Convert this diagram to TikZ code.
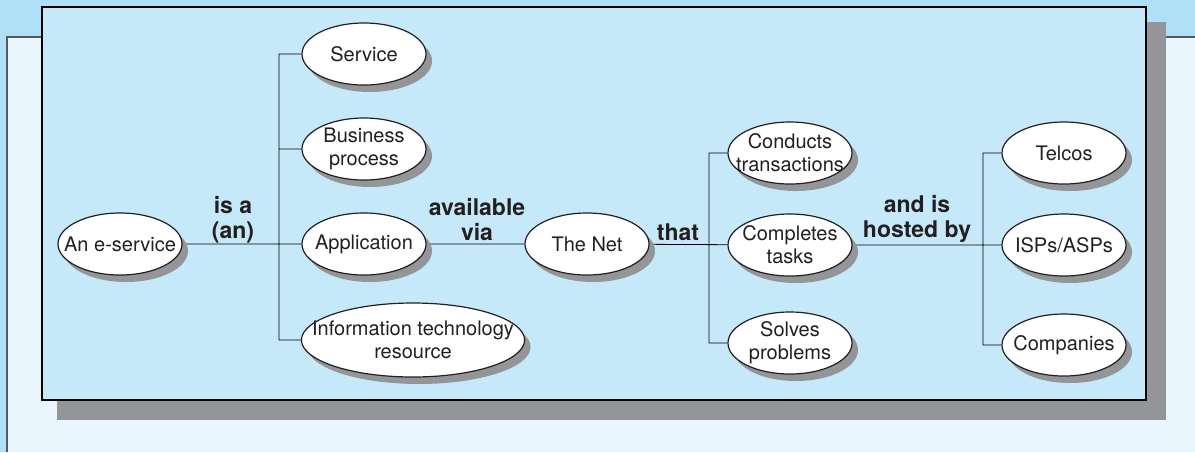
\documentclass[tikz,border=0pt]{standalone}
\usepackage{fontspec}
\setmainfont{TeX Gyre Heros}
\usetikzlibrary{shapes.geometric,shadows,backgrounds}
\definecolor{outer}{HTML}{AEE0F7}
\definecolor{panel}{HTML}{EAF6FD}
\definecolor{board}{HTML}{C6E9F9}
\definecolor{dropgray}{HTML}{949599}
\definecolor{ink}{HTML}{231F20}

\begin{document}
\begin{tikzpicture}[x=0.5pt,y=-0.5pt,
        color=ink, line width=0.6pt,
        el/.style={ellipse, draw=ink, fill=white,
                        inner xsep=-8pt, inner ysep=0pt,
                        minimum width=62pt, minimum height=31pt,
                        align=center, font=\fontsize{10}{11.5}\selectfont,
                        drop shadow={shadow xshift=3pt, shadow yshift=-3.5pt,
                                fill=dropgray, opacity=1}},
        lb/.style={align=center, font=\bfseries\fontsize{11.5}{12.5}\selectfont}]
    \useasboundingbox (0,0) rectangle (1195,452);

    % ovals
    \node[el] (es) at (120,244) {An e-service};
    \node[el] (srv) at (364,54) {Service};
    \node[el] (bp) at (364,149) {Business\\process};
    \node[el] (app) at (364,244) {Application};
    \node[el, inner xsep=-11pt, minimum height=37pt] (itr) at (413,340)
        {Information technology\\resource};
    \node[el] (net) at (587,244) {The Net};
    \node[el] (ct) at (790,153) {Conducts\\transactions};
    \node[el] (ctk) at (790,245) {Completes\\tasks};
    \node[el] (sp) at (790,343) {Solves\\problems};
    \node[el] (tel) at (1064,153) {Telcos};
    \node[el] (isp) at (1064,245) {ISPs/ASPs};
    \node[el] (com) at (1064,345) {Companies};

    % words on the links
    \node[lb] (isa) at (233,220) {is a\\(an)};
    \node[lb] (via) at (477,220) {available\\via};
    \node[lb] (that) at (678,232) {that};
    \node[lb] (host) at (917,219) {and is\\hosted by};

    \coordinate (t1) at (279,244);
    \coordinate (t2) at (709,245);
    \coordinate (t3) at (983,245);

    \begin{scope}[on background layer]
        \fill[outer] (0,0) rectangle (1195,452);
        \fill[panel] (7,37) rectangle (1195,452);
        \draw[ink!75, line width=1pt] (7,452) -- (7,37) -- (1195,37);
        \fill[dropgray] (57,22) rectangle (1166,420);
        \draw[fill=board, line width=1pt] (42,7) rectangle (1146,400);
        \draw
        (es) -- (app)
        (srv.west) -| (t1) |- (itr.west)
        (bp.west) -- (bp.west -| t1)
        (app) -- (net) -- (ctk)
        (ct.west) -| (t2) |- (sp.west)
        (ctk) -- (isp)
        (tel.west) -| (t3) |- (com.west);
    \end{scope}
\end{tikzpicture}
\end{document}
